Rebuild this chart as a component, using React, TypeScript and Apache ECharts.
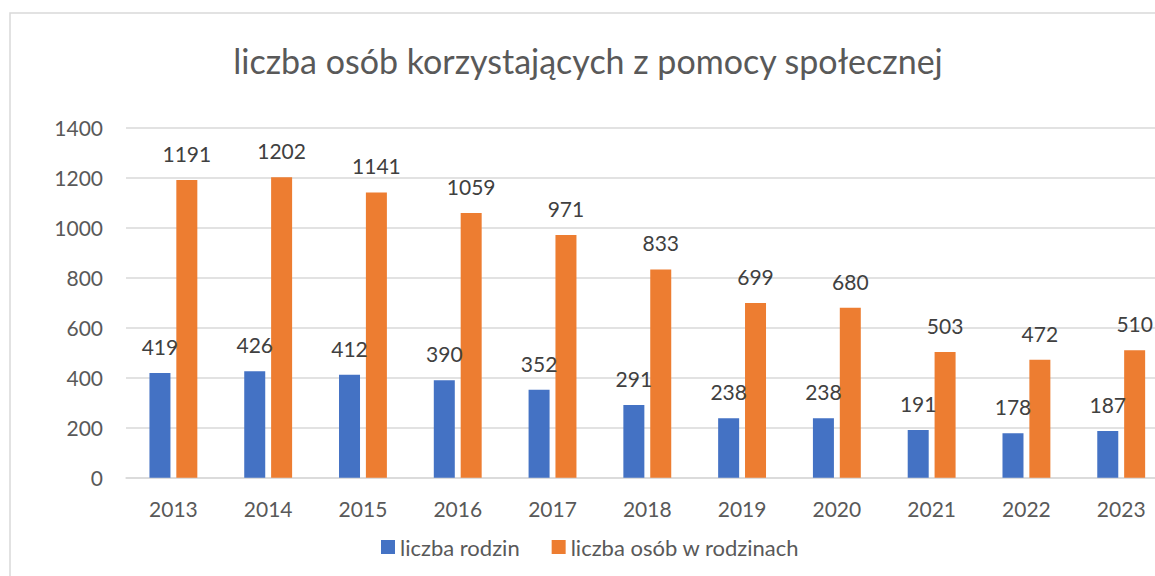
import React, { useEffect, useRef } from "react";
import * as echarts from "echarts";

const years = ["2013", "2014", "2015", "2016", "2017", "2018", "2019", "2020", "2021", "2022", "2023"];
const families = [419, 426, 412, 390, 352, 291, 238, 238, 191, 178, 187];
const persons = [1191, 1202, 1141, 1059, 971, 833, 699, 680, 503, 472, 510];
const seriesNames = ["liczba rodzin", "liczba osób w rodzinach"];
const titleText = "liczba osób korzystających z pomocy społecznej";

const FONT = "Lato, 'Noto Sans', sans-serif";
const TXT = "#595959";

export default function App() {
  const ref = useRef<HTMLDivElement>(null);
  useEffect(() => {
    if (!ref.current) return;
    const chart = echarts.init(ref.current, undefined, { renderer: "svg" });
    const label = {
      show: true,
      position: "top",
      distance: 16,
      color: "#404040",
      fontSize: 21,
      fontFamily: FONT,
    };
    chart.setOption({
      animation: false,
      backgroundColor: "#ffffff",
      textStyle: { fontFamily: FONT },
      graphic: [
        {
          type: "rect",
          shape: { x: 10, y: 13, width: 3000, height: 2000 },
          style: { fill: "none", stroke: "#d9d9d9", lineWidth: 1.5 },
          silent: true,
          z: -10,
        },
        {
          type: "text",
          x: 588,
          y: 60,
          style: {
            text: titleText,
            fill: TXT,
            fontSize: 34,
            fontFamily: FONT,
            textAlign: "center",
            textVerticalAlign: "middle",
          },
        },
      ],
      legend: {
        data: seriesNames,
        left: 376,
        top: 531,
        itemWidth: 14,
        itemHeight: 14,
        itemGap: 32,
        icon: "rect",
        textStyle: { color: TXT, fontSize: 22, fontFamily: FONT },
      },
      grid: {
        left: 126,
        right: 11.4,
        top: 127.7,
        bottom: 98.3,
        containLabel: false,
        outerBoundsMode: "none",
      },
      xAxis: {
        type: "category",
        data: years,
        axisLine: { show: true, lineStyle: { color: "#d9d9d9", width: 1.5 } },
        axisTick: { show: false },
        axisLabel: { color: TXT, fontSize: 21, fontFamily: FONT, margin: 20 },
      },
      yAxis: {
        type: "value",
        min: 0,
        max: 1400,
        interval: 200,
        axisLine: { show: false },
        axisTick: { show: false },
        splitLine: { lineStyle: { color: "#d9d9d9", width: 1.5 } },
        axisLabel: {
          color: TXT,
          fontSize: 21,
          fontFamily: FONT,
          margin: 23,
          formatter: (v: number) => String(v),
        },
      },
      series: [
        {
          name: seriesNames[0],
          type: "bar",
          data: families,
          barWidth: 21,
          barGap: "28%",
          itemStyle: { color: "#4472C4" },
          label,
        },
        {
          name: seriesNames[1],
          type: "bar",
          data: persons,
          barWidth: 21,
          barGap: "28%",
          itemStyle: { color: "#ED7D31" },
          label,
        },
      ],
    });
    return () => chart.dispose();
  }, []);
  return (
    <div
      style={{
        position: "fixed",
        left: 0,
        top: 0,
        width: 1155,
        height: 576,
        overflow: "hidden",
        background: "#fff",
      }}
    >
      <div ref={ref} style={{ width: 1180, height: 576 }} />
    </div>
  );
}
